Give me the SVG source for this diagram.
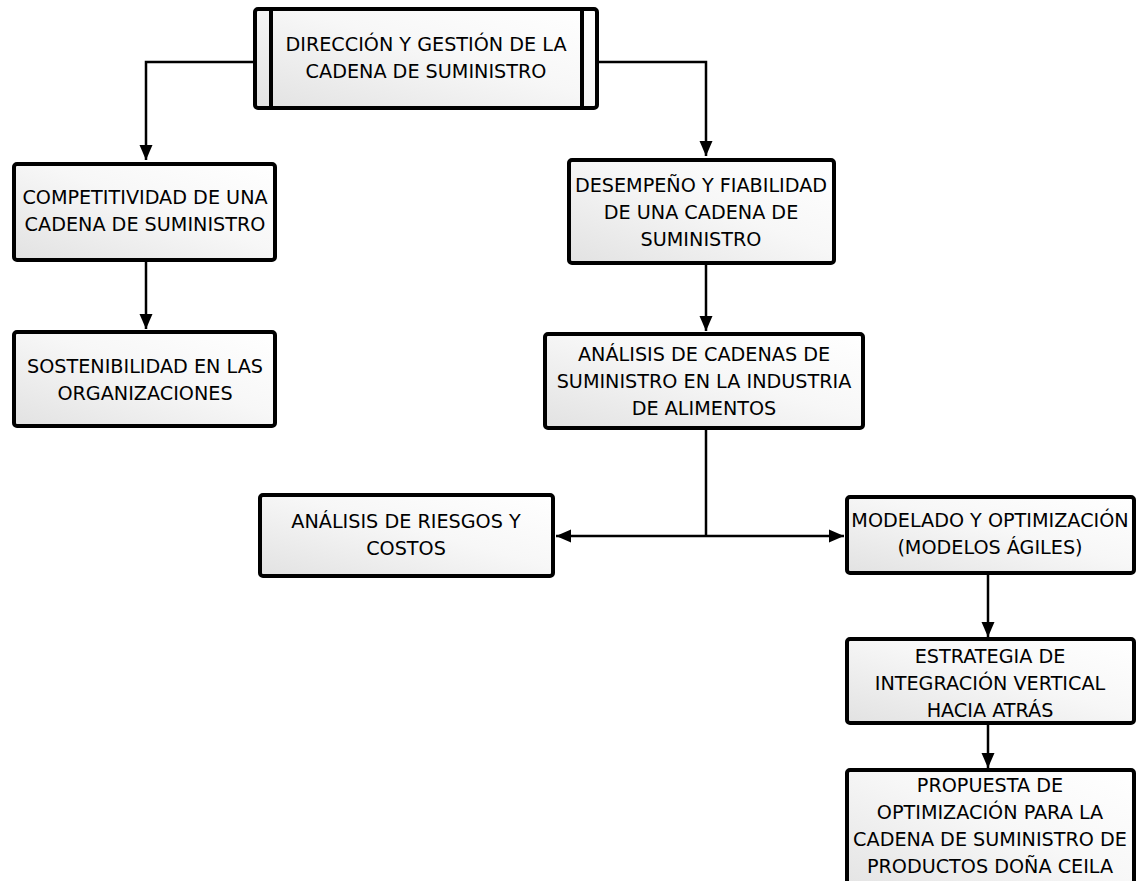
<svg xmlns="http://www.w3.org/2000/svg" width="1138" height="881" viewBox="0 0 1138 881">
  <defs>
    <linearGradient id="boxFill" x1="0" y1="1" x2="1" y2="0">
      <stop offset="0" stop-color="#e2e2e2"/>
      <stop offset="0.55" stop-color="#f7f7f7"/>
      <stop offset="1" stop-color="#ffffff"/>
    </linearGradient>
    <marker id="arrow" markerUnits="userSpaceOnUse" markerWidth="16" markerHeight="16" viewBox="0 0 16 16" refX="15" refY="8" orient="auto">
      <path d="M0,1.5 L15,8 L0,14.5 Z" fill="#000"/>
    </marker>
  </defs>
  <style>
    .box { fill: url(#boxFill); stroke: #000; stroke-width: 4; }
    .bar { fill: none; stroke: #000; stroke-width: 4; }
    .lbl { font-family: "DejaVu Sans", Verdana, sans-serif; font-size: 19.2px; fill: #000; text-anchor: middle; }
    .edge { fill: none; stroke: #000; stroke-width: 2.5; }
  </style>

  <rect width="1138" height="881" fill="#fff"/>

  <!-- connectors -->
  <g id="connectors">
    <path class="edge" d="M255,62 H146 V160" marker-end="url(#arrow)"/>
    <path class="edge" d="M597,62 H706 V156" marker-end="url(#arrow)"/>
    <path class="edge" d="M146,262 V329" marker-end="url(#arrow)"/>
    <path class="edge" d="M706,265 V331" marker-end="url(#arrow)"/>
    <path class="edge" d="M706,430 V536"/>
    <path class="edge" d="M706,536 H556" marker-end="url(#arrow)"/>
    <path class="edge" d="M706,536 H844" marker-end="url(#arrow)"/>
    <path class="edge" d="M988,575 V637" marker-end="url(#arrow)"/>
    <path class="edge" d="M988,725 V768" marker-end="url(#arrow)"/>
  </g>

  <!-- root: predefined-process style box -->
  <g id="node-direccion">
    <rect class="box" x="255" y="9" width="342" height="99" rx="3"/>
    <line class="bar" x1="271" y1="9" x2="271" y2="108"/>
    <line class="bar" x1="582" y1="9" x2="582" y2="108"/>
    <text class="lbl" x="426" y="51">DIRECCIÓN Y GESTIÓN DE LA</text>
    <text class="lbl" x="426" y="78">CADENA DE SUMINISTRO</text>
  </g>

  <g id="node-competitividad">
    <rect class="box" x="14" y="164" width="261" height="96" rx="3"/>
    <text class="lbl" x="145" y="204">COMPETITIVIDAD DE UNA</text>
    <text class="lbl" x="145" y="231">CADENA DE SUMINISTRO</text>
  </g>

  <g id="node-sostenibilidad">
    <rect class="box" x="14" y="332" width="261" height="94" rx="3"/>
    <text class="lbl" x="145" y="373">SOSTENIBILIDAD EN LAS</text>
    <text class="lbl" x="145" y="400">ORGANIZACIONES</text>
  </g>

  <g id="node-desempeno">
    <rect class="box" x="569" y="160" width="265" height="103" rx="3"/>
    <text class="lbl" x="701" y="191.5">DESEMPEÑO Y FIABILIDAD</text>
    <text class="lbl" x="701" y="218.5">DE UNA CADENA DE</text>
    <text class="lbl" x="701" y="245.5">SUMINISTRO</text>
  </g>

  <g id="node-analisis-cadenas">
    <rect class="box" x="545" y="334" width="318" height="94" rx="3"/>
    <text class="lbl" x="704" y="360.5">ANÁLISIS DE CADENAS DE</text>
    <text class="lbl" x="704" y="387.5">SUMINISTRO EN LA INDUSTRIA</text>
    <text class="lbl" x="704" y="414.5">DE ALIMENTOS</text>
  </g>

  <g id="node-riesgos">
    <rect class="box" x="260" y="495" width="293" height="81" rx="3"/>
    <text class="lbl" x="406" y="528">ANÁLISIS DE RIESGOS Y</text>
    <text class="lbl" x="406" y="555">COSTOS</text>
  </g>

  <g id="node-modelado">
    <rect class="box" x="847" y="497" width="287" height="76" rx="3"/>
    <text class="lbl" x="990" y="527">MODELADO Y OPTIMIZACIÓN</text>
    <text class="lbl" x="990" y="554">(MODELOS ÁGILES)</text>
  </g>

  <g id="node-estrategia">
    <rect class="box" x="847" y="639" width="287" height="84" rx="3"/>
    <text class="lbl" x="990" y="662.5">ESTRATEGIA DE</text>
    <text class="lbl" x="990" y="689.5">INTEGRACIÓN VERTICAL</text>
    <text class="lbl" x="990" y="716.5">HACIA ATRÁS</text>
  </g>

  <g id="node-propuesta">
    <rect class="box" x="847" y="770" width="287" height="130" rx="3"/>
    <text class="lbl" x="990" y="791.5">PROPUESTA DE</text>
    <text class="lbl" x="990" y="818.5">OPTIMIZACIÓN PARA LA</text>
    <text class="lbl" x="990" y="845.5">CADENA DE SUMINISTRO DE</text>
    <text class="lbl" x="990" y="872.5">PRODUCTOS DOÑA CEILA</text>
  </g>
</svg>
